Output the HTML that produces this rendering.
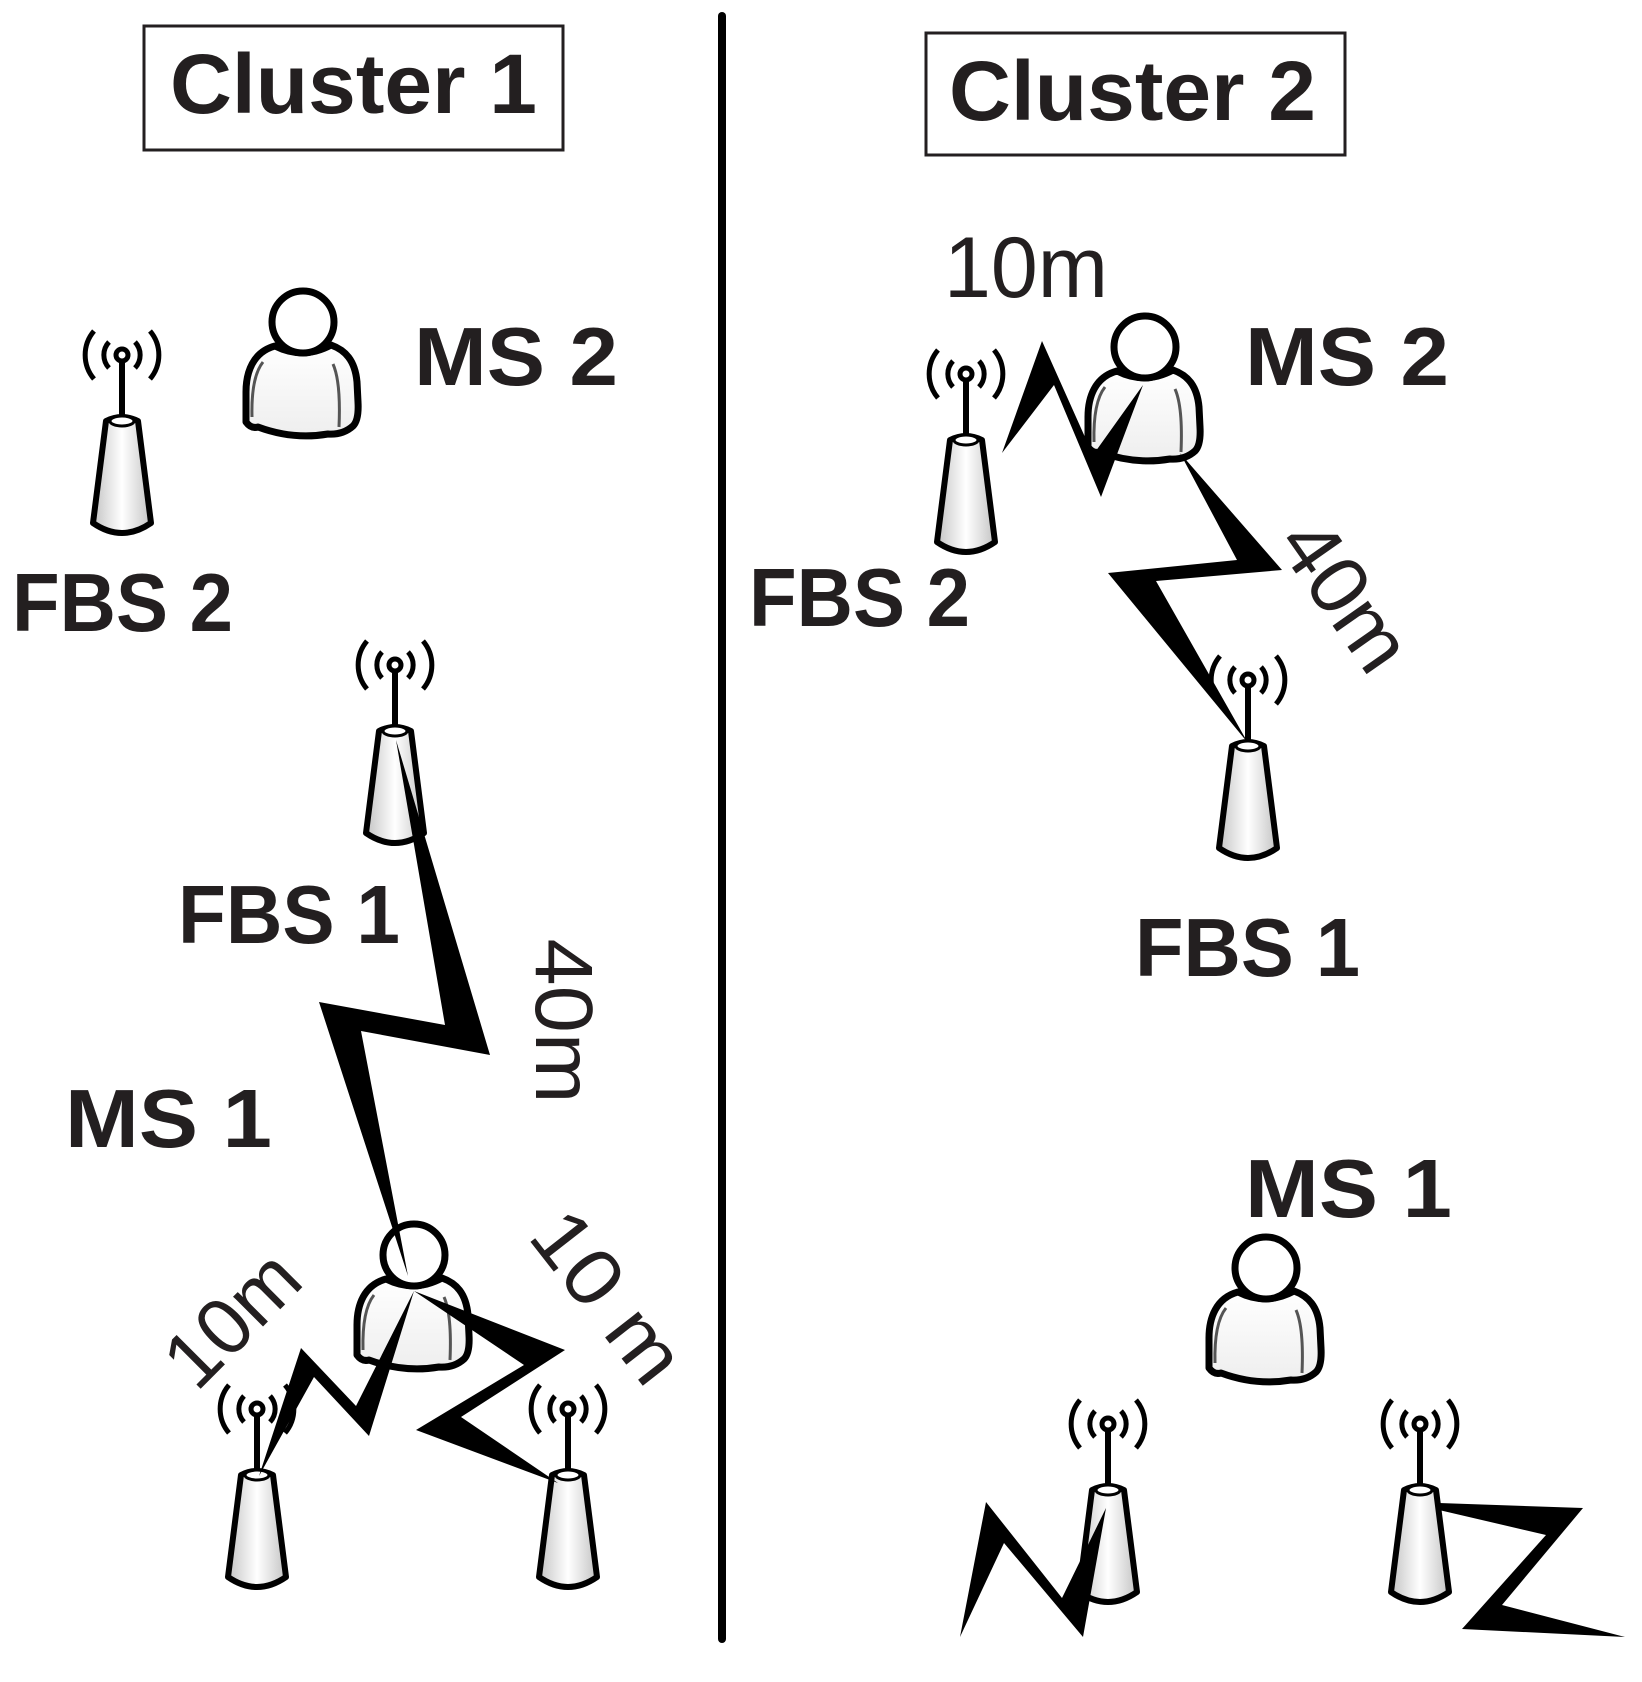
<!DOCTYPE html>
<html><head><meta charset="utf-8"><style>
html,body{margin:0;padding:0;background:#fff;}
svg{display:block;}
.b{font-family:"Liberation Sans",sans-serif;font-weight:bold;fill:#231f20;}
.r{font-family:"Liberation Sans",sans-serif;fill:#231f20;}
</style></head><body>
<svg width="1642" height="1682" viewBox="0 0 1642 1682" xmlns="http://www.w3.org/2000/svg">
<defs>
<linearGradient id="cg" x1="0" x2="1" y1="0" y2="0">
<stop offset="0" stop-color="#c4c4c4"/><stop offset="0.5" stop-color="#ffffff"/><stop offset="1" stop-color="#c4c4c4"/>
</linearGradient>
<linearGradient id="pg" x1="0" x2="0" y1="0" y2="1">
<stop offset="0" stop-color="#ffffff"/><stop offset="1" stop-color="#eeeeee"/>
</linearGradient>
<g id="ant">
<path d="M-13,-13 A19,19 0 0 0 -13,13 M13,-13 A19,19 0 0 1 13,13" fill="none" stroke="#000" stroke-width="5"/>
<path d="M-28,-24 A37,37 0 0 0 -28,24 M28,-24 A37,37 0 0 1 28,24" fill="none" stroke="#000" stroke-width="5"/>
<line x1="0" y1="5" x2="0" y2="64" stroke="#000" stroke-width="6"/>
<circle cx="0" cy="0" r="6" fill="#fff" stroke="#000" stroke-width="5"/>
<path d="M-16,66 L-29,168 Q0,188 29,168 L16,66 Q0,58 -16,66Z" fill="url(#cg)" stroke="#000" stroke-width="6" stroke-linejoin="round"/>
<ellipse cx="0" cy="66" rx="12" ry="5" fill="#fff" stroke="#000" stroke-width="3"/>
</g>
<g id="per">
<path d="M-28,24 C-50,30 -57,50 -57,70 L-57,100 Q-52,107 -45,105 Q-10,118 25,112 Q40,113 50,104 Q56,98 55,80 L54,60 C52,38 42,28 28,23 Q0,38 -28,24Z" fill="url(#pg)" stroke="#000" stroke-width="7" stroke-linejoin="round"/>
<path d="M-40,40 Q-52,55 -51,95" fill="none" stroke="#555" stroke-width="3"/>
<path d="M30,42 Q38,60 36,105" fill="none" stroke="#555" stroke-width="3"/>
<path d="M-20,26 Q0,36 20,26" fill="none" stroke="#555" stroke-width="3"/>
<circle cx="0" cy="0" r="31" fill="#fff" stroke="#000" stroke-width="7"/>
</g>
</defs>

<line x1="722" y1="16" x2="722" y2="1639" stroke="#000" stroke-width="8" stroke-linecap="round"/>

<rect x="144" y="26" width="419" height="124" fill="none" stroke="#231f20" stroke-width="3"/>
<text class="b" x="170" y="113" font-size="84" textLength="367" lengthAdjust="spacingAndGlyphs">Cluster 1</text>

<use href="#ant" x="122" y="355"/>
<use href="#per" x="303" y="322"/>
<text class="b" x="414" y="385" font-size="83" textLength="204" lengthAdjust="spacingAndGlyphs">MS 2</text>
<text class="b" x="12" y="631" font-size="83" textLength="221" lengthAdjust="spacingAndGlyphs">FBS 2</text>

<use href="#ant" x="395" y="665"/>
<text class="b" x="178" y="943" font-size="83" textLength="222" lengthAdjust="spacingAndGlyphs">FBS 1</text>
<text class="b" x="65" y="1147" font-size="83" textLength="207" lengthAdjust="spacingAndGlyphs">MS 1</text>

<use href="#per" x="414" y="1255"/>
<use href="#ant" x="257" y="1409"/>
<use href="#ant" x="568" y="1409"/>

<polygon points="396,740 490,1055 361,1031 408,1276 319,1002 445,1025" fill="#000"/>
<polygon points="414,1291 369,1436 314,1377 259,1476 301,1348 356,1406" fill="#000"/>
<polygon points="414,1291 565,1350 461,1417 558,1483 416,1430 524,1365" fill="#000"/>

<g transform="translate(566,1021) rotate(90)"><text class="r" x="0" y="30" font-size="82" text-anchor="middle" textLength="165" lengthAdjust="spacingAndGlyphs">40m</text></g>
<g transform="translate(230,1317) rotate(-45)"><text class="r" x="0" y="30" font-size="80" text-anchor="middle" textLength="155" lengthAdjust="spacingAndGlyphs">10m</text></g>
<g transform="translate(610,1295) rotate(52)"><text class="r" x="0" y="30" font-size="80" text-anchor="middle" textLength="195" lengthAdjust="spacingAndGlyphs">10 m</text></g>

<rect x="926" y="33" width="419" height="122" fill="none" stroke="#231f20" stroke-width="3"/>
<text class="b" x="949" y="120" font-size="84" textLength="367" lengthAdjust="spacingAndGlyphs">Cluster 2</text>

<text class="r" x="944" y="297" font-size="86" textLength="164" lengthAdjust="spacingAndGlyphs">10m</text>
<use href="#ant" x="966" y="374"/>
<use href="#per" x="1145" y="347"/>
<text class="b" x="1245" y="385" font-size="83" textLength="204" lengthAdjust="spacingAndGlyphs">MS 2</text>
<text class="b" x="749" y="626" font-size="83" textLength="221" lengthAdjust="spacingAndGlyphs">FBS 2</text>

<polygon points="1002,453 1042,341 1093,455 1143,385 1101,497 1054,385" fill="#000"/>
<polygon points="1180,453 1282,570 1156,581 1248,743 1108,573 1237,560" fill="#000"/>
<g transform="translate(1347,594) rotate(55)"><text class="r" x="0" y="30" font-size="82" text-anchor="middle" textLength="165" lengthAdjust="spacingAndGlyphs">40m</text></g>

<use href="#ant" x="1248" y="680"/>
<text class="b" x="1135" y="976" font-size="83" textLength="225" lengthAdjust="spacingAndGlyphs">FBS 1</text>
<text class="b" x="1245" y="1217" font-size="83" textLength="207" lengthAdjust="spacingAndGlyphs">MS 1</text>
<use href="#per" x="1266" y="1268"/>

<use href="#ant" x="1108" y="1424"/>
<use href="#ant" x="1420" y="1424"/>
<polygon points="960,1637 986,1502 1062,1598 1106,1508 1083,1637 1004,1543" fill="#000"/>
<polygon points="1439,1503 1583,1508 1502,1605 1625,1637 1462,1629 1546,1535 1439,1510" fill="#000"/>
</svg>
</body></html>
